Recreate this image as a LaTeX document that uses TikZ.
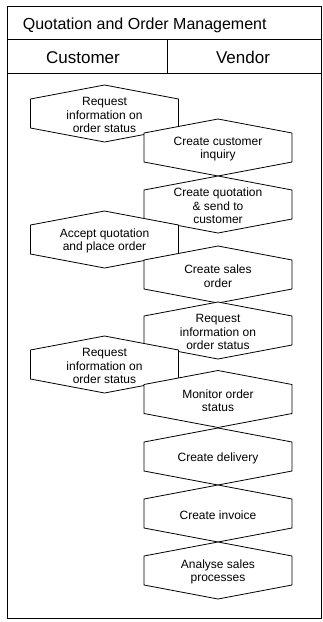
\documentclass[tikz,border=0pt]{standalone}
\usepackage{fontspec}
\setmainfont{Liberation Sans}

\tikzset{
  frameline/.style={line width=0.8pt},
  acttext/.style={align=center, inner sep=0pt, font=\fontsize{12}{13.5}\selectfont},
}
% activity box: name, x, y, text
\newcommand{\actbox}[4]{%
  \draw[frameline, fill=white] (#2-74,#3-14.5) -- (#2,#3-28.5) -- (#2+74,#3-14.5)
    -- (#2+74,#3+14.5) -- (#2,#3+28.5) -- (#2-74,#3+14.5) -- cycle;
  \node[acttext] (#1) at (#2,#3+1.5) {#4};}

\begin{document}
\begin{tikzpicture}[x=1pt,y=-1pt]
        \useasboundingbox (0,0) rectangle (322,622);
        % frame and lanes
        \draw[frameline] (7.3,6) rectangle (321.5,618.3);
        \draw[frameline] (7.3,39) -- (321.5,39);
        \draw[frameline] (7.3,73) -- (321.5,73);
        \draw[frameline] (167,39) -- (167,73);
        \node[anchor=base west, inner sep=0pt, font=\fontsize{16}{18}\selectfont] (title) at (22.7,29.3) {Quotation and Order Management};
        \node[anchor=base, inner sep=0pt, font=\fontsize{17}{19}\selectfont] (customer) at (83,63.3) {Customer};
        \node[anchor=base, inner sep=0pt, font=\fontsize{17}{19}\selectfont] (vendor) at (243,63.3) {Vendor};
        % customer lane
        \actbox{reqcust}{104.5}{113.5}{Request\\information on\\order status}
        % vendor lane
        \actbox{inquiry}{218}{147.5}{Create customer\\inquiry}
        \actbox{quote}{218}{204.5}{Create quotation\\\& send to\\customer}
        \actbox{accept}{104.5}{239.5}{Accept quotation\\and place order}
        \actbox{salesorder}{218}{274.5}{Create sales\\order}
        \actbox{reqvend}{218}{330.5}{Request\\information on\\order status}
        \actbox{reqstatus}{104.5}{364.5}{Request\\information on\\order status}
        \actbox{monitor}{218}{399}{Monitor order\\status}
        \actbox{delivery}{218}{456.5}{Create delivery}
        \actbox{invoice}{218}{513.5}{Create invoice}
        \actbox{analyse}{218}{570.5}{Analyse sales\\processes}
        \end{tikzpicture}
\end{document}
